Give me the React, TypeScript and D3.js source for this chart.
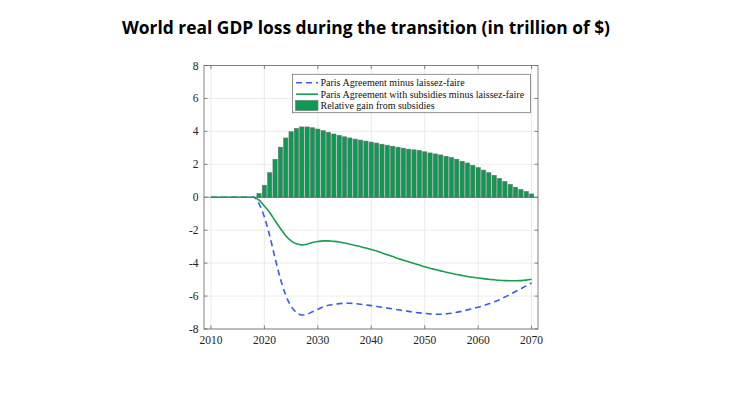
import * as d3 from 'd3';

// Years shown on the chart
const years = d3.range(2010, 2071);

// Paris Agreement minus laissez-faire (trillion $)
const parisVals = [
  0, 0, 0, 0, 0, 0, 0, 0, 0,
  -0.4, -1.2, -2.35, -3.7, -4.95, -5.95, -6.62, -7.0, -7.15, -7.1, -6.95,
  -6.8, -6.66, -6.56, -6.5, -6.46, -6.44, -6.44, -6.46, -6.5, -6.54,
  -6.58, -6.63, -6.68, -6.73, -6.78, -6.83, -6.88, -6.93, -6.98, -7.02,
  -7.05, -7.08, -7.1, -7.1, -7.08, -7.04, -6.98, -6.92, -6.84, -6.76,
  -6.68, -6.58, -6.47, -6.35, -6.22, -6.06, -5.9, -5.72, -5.55, -5.38,
  -5.2,
];

// Paris Agreement with subsidies minus laissez-faire
const subsidyVals = [
  0, 0, 0, 0, 0, 0, 0, 0, 0,
  -0.18, -0.53, -0.93, -1.43, -1.9, -2.34, -2.65, -2.83, -2.89, -2.85, -2.75,
  -2.69, -2.65, -2.65, -2.68, -2.72, -2.78, -2.85, -2.93, -3.0, -3.08,
  -3.17, -3.27, -3.38, -3.49, -3.6, -3.72, -3.82, -3.92, -4.02, -4.12,
  -4.22, -4.31, -4.39, -4.47, -4.55, -4.62, -4.69, -4.75, -4.81, -4.86,
  -4.9, -4.94, -4.98, -5.01, -5.04, -5.06, -5.07, -5.07, -5.06, -5.03,
  -4.98,
];

// Relative gain from subsidies (bars), years 2019-2070
const gainYears = d3.range(2019, 2071);
const gainVals = [
  0.22, 0.73, 1.49, 2.3, 3.04, 3.6, 3.98, 4.18, 4.27, 4.27, 4.22,
  4.14, 4.04, 3.94, 3.84, 3.76, 3.67, 3.6, 3.53, 3.47, 3.41,
  3.35, 3.29, 3.22, 3.16, 3.1, 3.04, 2.98, 2.92, 2.88, 2.84,
  2.76, 2.69, 2.63, 2.57, 2.49, 2.41, 2.31, 2.18, 2.08, 1.94,
  1.8, 1.65, 1.49, 1.33, 1.14, 0.96, 0.78, 0.61, 0.47, 0.35,
  0.2,
];

const xTicks = [2010, 2020, 2030, 2040, 2050, 2060, 2070];
const yTicks = [-8, -6, -4, -2, 0, 2, 4, 6, 8];

const legendLabels = [
  'Paris Agreement minus laissez-faire',
  'Paris Agreement with subsidies minus laissez-faire',
  'Relative gain from subsidies',
];

const blue = '#3a5cf0';
const green = '#16a04e';
const barFill = '#0b9b52';
const axisColor = '#666666';
const serif = '"Liberation Serif", "DejaVu Serif", serif';

export default function App() {
  const left = 204;
  const right = 538;
  const top = 65.5;
  const bottom = 329;

  const x = d3.scaleLinear().domain([2008.7, 2071.2]).range([left, right]);
  const y = d3.scaleLinear().domain([-8, 8]).range([bottom, top]);
  const bw = (x(2011) - x(2010)) * 0.8;

  const line = d3
    .line<number>()
    .x((_, i) => x(years[i]))
    .y((d) => y(d))
    .curve(d3.curveMonotoneX);

  const tick = 3.5;

  return (
    <svg
      width={730}
      height={410}
      style={{ position: 'absolute', left: 0, top: 0, background: '#fff' }}
    >
      <text
        x={366}
        y={34}
        textAnchor="middle"
        fontFamily='"Open Sans", "Noto Sans", sans-serif'
        fontWeight={700}
        fontSize={18}
        textLength={488}
        lengthAdjust="spacingAndGlyphs"
        fill="#000"
      >
        World real GDP loss during the transition (in trillion of $)
      </text>

      {/* grid */}
      <g stroke="#e6e6e6" strokeWidth={0.8}>
        {xTicks.map((t) => (
          <line key={'gx' + t} x1={x(t)} x2={x(t)} y1={top} y2={bottom} />
        ))}
        {yTicks.map((t) => (
          <line key={'gy' + t} x1={left} x2={right} y1={y(t)} y2={y(t)} />
        ))}
      </g>

      {/* bars */}
      <g fill={barFill} stroke="#6e6e6e" strokeWidth={0.6}>
        {gainVals.map((v, i) => (
          <rect
            key={'b' + i}
            x={x(gainYears[i]) - bw / 2}
            y={y(v)}
            width={bw}
            height={y(0) - y(v)}
          />
        ))}
      </g>
      <line x1={left} x2={right} y1={y(0)} y2={y(0)} stroke="#555" strokeWidth={0.6} />

      <path
        d={line(parisVals) ?? ''}
        fill="none"
        stroke={blue}
        strokeWidth={1.6}
        strokeDasharray="6,4"
      />
      <path d={line(subsidyVals) ?? ''} fill="none" stroke={green} strokeWidth={1.6} />

      {/* axes box and ticks */}
      <rect
        x={left}
        y={top}
        width={right - left}
        height={bottom - top}
        fill="none"
        stroke={axisColor}
        strokeWidth={0.8}
      />
      <g stroke={axisColor} strokeWidth={0.8}>
        {xTicks.map((t) => (
          <g key={'tx' + t}>
            <line x1={x(t)} x2={x(t)} y1={bottom} y2={bottom - tick} />
            <line x1={x(t)} x2={x(t)} y1={top} y2={top + tick} />
          </g>
        ))}
        {yTicks.map((t) => (
          <g key={'ty' + t}>
            <line x1={left} x2={left + tick} y1={y(t)} y2={y(t)} />
            <line x1={right} x2={right - tick} y1={y(t)} y2={y(t)} />
          </g>
        ))}
      </g>
      <g fontFamily={serif} fontSize={11.5} fill="#222">
        {xTicks.map((t) => (
          <text key={'lx' + t} x={x(t)} y={343.5} textAnchor="middle">
            {t}
          </text>
        ))}
        {yTicks.map((t) => (
          <text key={'ly' + t} x={198.5} y={y(t) + 4} textAnchor="end">
            {t}
          </text>
        ))}
      </g>

      {/* legend */}
      <g>
        <rect x={292.5} y={74.3} width={238} height={38.4} fill="#fff" stroke="#777" strokeWidth={0.8} />
        <line x1={296} x2={318} y1={82.7} y2={82.7} stroke={blue} strokeWidth={1.6} strokeDasharray="6,4" />
        <line x1={296} x2={318} y1={94.2} y2={94.2} stroke={green} strokeWidth={1.6} />
        <rect x={295.5} y={100.5} width={22.5} height={10} fill={barFill} stroke="#6e6e6e" strokeWidth={0.6} />
        <g fontFamily={serif} fontSize={10} fill="#111">
          {legendLabels.map((s, i) => (
            <text key={s} x={320.5} y={86.2 + i * 11.6}>
              {s}
            </text>
          ))}
        </g>
      </g>
    </svg>
  );
}
